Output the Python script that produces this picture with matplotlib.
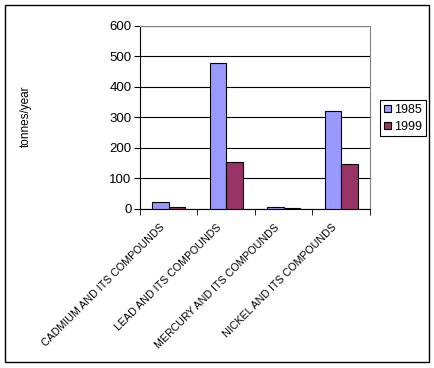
import matplotlib.pyplot as plt
from matplotlib.patches import Rectangle
from matplotlib.transforms import ScaledTranslation
import numpy as np

plt.rcParams['font.family'] = ['Liberation Sans', 'DejaVu Sans']

categories = ['CADMIUM AND ITS COMPOUNDS', 'LEAD AND ITS COMPOUNDS',
              'MERCURY AND ITS COMPOUNDS', 'NICKEL AND ITS COMPOUNDS']
vals_1985 = [23, 478, 6, 321]
vals_1999 = [6, 154, 2, 147]
years = ['1985', '1999']

fig = plt.figure(figsize=(4.35, 3.68), dpi=100)
ax = fig.add_axes([0.3218, 0.4321, 0.5287, 0.4973])

x = np.arange(len(categories))
w = 0.29
ax.bar(x - w/2, vals_1985, w, color='#9999FF', edgecolor='black', linewidth=0.8, label=years[0], zorder=3)
ax.bar(x + w/2, vals_1999, w, color='#993366', edgecolor='black', linewidth=0.8, label=years[1], zorder=3)

ax.set_xlim(-0.5, 3.5)
ax.set_ylim(0, 600)
ax.set_yticks(range(0, 601, 100))
ax.yaxis.grid(True, color='black', linewidth=0.8, zorder=0)
ax.tick_params(axis='y', labelsize=9.5, length=4, direction='out', pad=2)

ax.set_xticks(x)
ax.set_xticklabels(categories, rotation=45, ha='right', va='center', rotation_mode='anchor', fontsize=7.7)
ax.tick_params(axis='x', which='major', length=0, pad=12)
ax.set_xticks(np.arange(-0.5, 3.6, 1), minor=True)
ax.tick_params(axis='x', which='minor', length=4, direction='out')
shift = ScaledTranslation(-6/100, 0, fig.dpi_scale_trans)
for lbl in ax.get_xticklabels():
    lbl.set_transform(lbl.get_transform() + shift)

for s in ['top', 'right']:
    ax.spines[s].set_color('#808080')
for s in ['left', 'bottom']:
    ax.spines[s].set_color('black')

fig.text(26/435, 0.685, 'tonnes/year', rotation=90, ha='center', va='center', fontsize=8.5)

leg = fig.legend(loc='upper left', bbox_to_anchor=(0.8736, 0.7283), bbox_transform=fig.transFigure,
                 fancybox=False, edgecolor='black', framealpha=1, fontsize=9,
                 handlelength=0.55, handleheight=0.55, handletextpad=0.3, borderpad=0.3,
                 labelspacing=0.4, borderaxespad=0)
leg.get_frame().set_linewidth(0.8)

fig.patches.append(Rectangle((5/435, 6/368), 424/435, 357/368, transform=fig.transFigure,
                             fill=False, edgecolor='black', linewidth=1))

fig.savefig('out.png', dpi=100)
